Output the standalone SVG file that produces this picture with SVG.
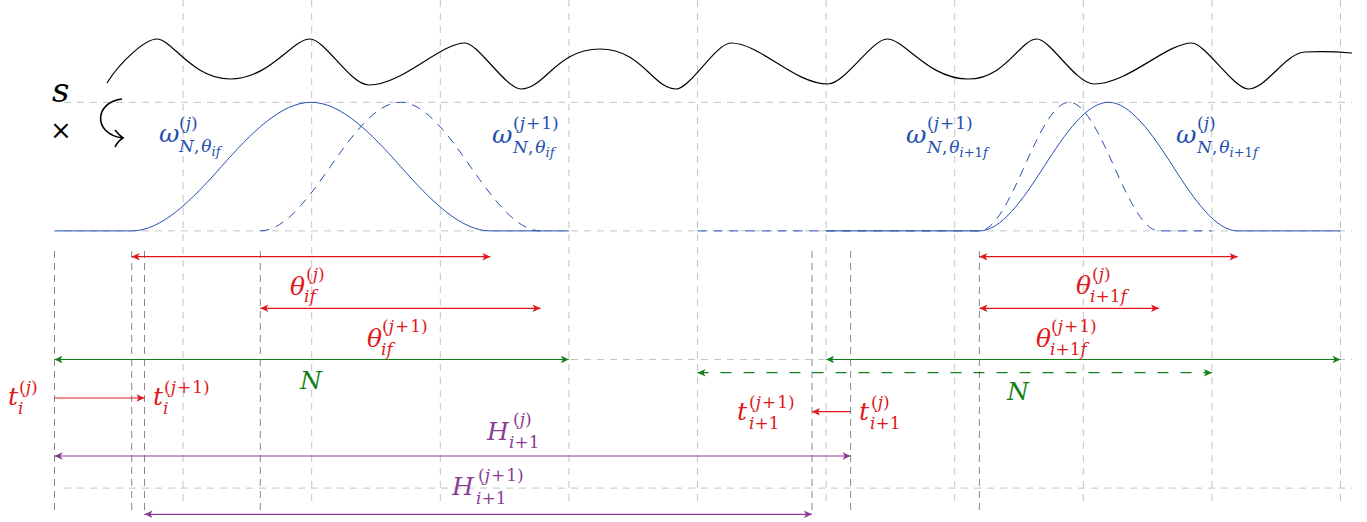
<svg xmlns="http://www.w3.org/2000/svg" width="1367" height="522" viewBox="0 0 1367 522">
<style>
.f { font-family: "DejaVu Serif", "Liberation Serif", serif; }
.M { font-size:25px; font-style:italic; }
.S { font-size:17px; font-style:normal; }
.SS { font-size:13px; }
.it { font-style:italic; }
.red { fill:#e0181c; }
.grn { fill:#15801a; }
.pur { fill:#8b3d95; }
.blu { fill:#2350b0; }
.grid { stroke:#c4c4c4; stroke-width:1; stroke-dasharray:7 6; fill:none; }
.dark { stroke:#8a8a8a; stroke-width:1; stroke-dasharray:7 5; fill:none; }
.sig { stroke:#000; stroke-width:1.2; fill:none; }
.win { stroke:#2350b0; stroke-width:1; fill:none; }
.winD { stroke:#2350b0; stroke-width:1; fill:none; stroke-dasharray:9 7; }
.ar { stroke-width:1.2; fill:none; }
</style>
<defs>
<marker id="hr" viewBox="-10 -5 12 10" refX="0" refY="0" markerWidth="12" markerHeight="10" markerUnits="userSpaceOnUse" orient="auto-start-reverse"><path d="M0,0 L-8,-3.8 L-6,0 L-8,3.8 Z" fill="#e0181c"/></marker>
<marker id="hg" viewBox="-10 -5 12 10" refX="0" refY="0" markerWidth="12" markerHeight="10" markerUnits="userSpaceOnUse" orient="auto-start-reverse"><path d="M0,0 L-8,-3.8 L-6,0 L-8,3.8 Z" fill="#15801a"/></marker>
<marker id="hp" viewBox="-10 -5 12 10" refX="0" refY="0" markerWidth="12" markerHeight="10" markerUnits="userSpaceOnUse" orient="auto-start-reverse"><path d="M0,0 L-8,-3.8 L-6,0 L-8,3.8 Z" fill="#8b3d95"/></marker>
</defs>
<rect width="1367" height="522" fill="#fff"/>

<g id="grid">
<path class="grid" d="M183.1,0V502 M311.7,0V502 M440.3,0V502 M568.9,0V502 M697.5,0V502 M826.1,0V502 M954.7,0V502 M1083.3,0V502 M1211.9,0V502 M1340.5,0V502"/>
<path class="grid" d="M64,102.3H1352 M64,230.9H1352 M64,359.5H1352 M64,488.1H1352"/>
</g>

<g id="markers-dark">
<path class="dark" d="M54.5,251V515 M131.7,251V515 M144.5,251V515 M260.3,251V515 M812,251V515 M850.6,251V515 M979.4,251V515"/>
</g>

<g id="signal">
<path class="sig" d="M107,83 C120,62 145,39 157,39 C172,39 192,79 230,79 C270,79 292,39 310,39 C325,39 350,85 369,85 C402.6,85 440,43 465,43 C478,43 506,89 521,89 C544.7,89 556.5,49 600,49 C641.8,49 653.2,89 676,89 C690,89 716,43 731,43 C760.1,43 794,84 828,84 C845,84 872,39 887,39 C905,39 928,79 968,79 C1006,79 1020,39 1037,39 C1050,39 1076,84 1094,84 C1128.3,84 1166,43 1192,43 C1205,43 1234,89 1248,89 C1266.6,89 1285,53 1305,52 C1325,51 1340,52 1352,53"/>
</g>

<g id="multiply">
<text class="f" x="52" y="102" style="font-size:34px;font-style:italic">s</text>
<text class="f" x="61" y="139" text-anchor="middle" style="font-size:26px">×</text>
<path d="M122,99 C95,102 92,133 122,138" stroke="#000" stroke-width="1.6" fill="none"/>
<path d="M115,130 Q119,135 123,138 Q118,141 115,147" stroke="#000" stroke-width="1.6" fill="none"/>
</g>

<g id="windows">
<path class="win" d="M54.5,230.9 L131.7,230.9 C161.6,230.9 191.5,200.3 221.4,166.6 C251.3,132.9 281.2,102.3 311.05,102.3 C340.9,102.3 370.8,132.9 400.7,166.6 C430.6,200.3 460.5,230.9 490.4,230.9 L568.9,230.9"/>
<path class="winD" d="M260.3,230.9 C283.7,230.9 307.0,200.3 330.4,166.6 C353.7,132.9 377.1,102.3 400.45,102.3 C423.8,102.3 447.2,132.9 470.5,166.6 C493.9,200.3 517.2,230.9 540.6,230.9"/>
<path class="win" d="M826.1,230.9 L979.4,230.9 C1000.9,230.9 1022.4,200.3 1044.0,166.6 C1065.5,132.9 1087.0,102.3 1108.5,102.3 C1130.0,102.3 1151.6,132.9 1173.1,166.6 C1194.6,200.3 1216.1,230.9 1237.6,230.9 L1340.5,230.9"/>
<path class="winD" d="M697.5,230.9 L979.4,230.9 C994.4,230.9 1009.3,200.3 1024.3,166.6 C1039.3,132.9 1054.2,102.3 1069.2,102.3 C1084.2,102.3 1099.1,132.9 1114.1,166.6 C1129.1,200.3 1144.0,230.9 1159.0,230.9 L1211.9,230.9"/>
</g>

<g id="w-j-if" class="blu">
<text class="f"><tspan class="M" x="159" y="142">ω</tspan><tspan class="S" x="179" y="129">(<tspan class="it">j</tspan>)</tspan><tspan class="S" x="179" y="152"><tspan class="it">N</tspan>,<tspan class="it" dx="2">θ</tspan></tspan><tspan class="SS it" y="156">if</tspan></text>
</g>
<g id="w-j1-if" class="blu">
<text class="f"><tspan class="M" x="492" y="143">ω</tspan><tspan class="S" x="513" y="129">(<tspan class="it">j</tspan><tspan dx="1">+</tspan><tspan dx="1">1</tspan>)</tspan><tspan class="S" x="513" y="153"><tspan class="it">N</tspan>,<tspan class="it" dx="2">θ</tspan></tspan><tspan class="SS it" y="157">if</tspan></text>
</g>
<g id="w-j1-i1f" class="blu">
<text class="f"><tspan class="M" x="906" y="143">ω</tspan><tspan class="S" x="927" y="129">(<tspan class="it">j</tspan><tspan dx="1">+</tspan><tspan dx="1">1</tspan>)</tspan><tspan class="S" x="927" y="153"><tspan class="it">N</tspan>,<tspan class="it" dx="2">θ</tspan></tspan><tspan class="SS" y="157"><tspan class="it">i</tspan>+1<tspan class="it">f</tspan></tspan></text>
</g>
<g id="w-j-i1f" class="blu">
<text class="f"><tspan class="M" x="1176" y="143">ω</tspan><tspan class="S" x="1197" y="129">(<tspan class="it">j</tspan>)</tspan><tspan class="S" x="1197" y="153"><tspan class="it">N</tspan>,<tspan class="it" dx="2">θ</tspan></tspan><tspan class="SS" y="157"><tspan class="it">i</tspan>+1<tspan class="it">f</tspan></tspan></text>
</g>

<g id="connectors">
<path class="ar" stroke="#e0181c" d="M131.7,256.7H490.4" marker-start="url(#hr)" marker-end="url(#hr)"/>
<path class="ar" stroke="#e0181c" d="M260.3,308.3H540.6" marker-start="url(#hr)" marker-end="url(#hr)"/>
<path class="ar" stroke="#e0181c" d="M979.4,256.7H1237.6" marker-start="url(#hr)" marker-end="url(#hr)"/>
<path class="ar" stroke="#e0181c" d="M979.4,308.3H1159" marker-start="url(#hr)" marker-end="url(#hr)"/>
<path class="ar" stroke="#e0181c" d="M54.5,398H144.5" marker-end="url(#hr)"/>
<path class="ar" stroke="#e0181c" d="M850.6,411.7H812" marker-end="url(#hr)"/>
<path class="ar" stroke="#15801a" d="M54.5,359.5H568.9" marker-start="url(#hg)" marker-end="url(#hg)"/>
<path class="ar" stroke="#15801a" d="M826.1,359.5H1340.5" marker-start="url(#hg)" marker-end="url(#hg)"/>
<path class="ar" stroke="#15801a" stroke-dasharray="11 12" d="M697.5,372.7H1211.9" marker-start="url(#hg)" marker-end="url(#hg)"/>
<path class="ar" stroke="#8b3d95" d="M54.5,456H850.6" marker-start="url(#hp)" marker-end="url(#hp)"/>
<path class="ar" stroke="#8b3d95" d="M144.5,514.3H812" marker-start="url(#hp)" marker-end="url(#hp)"/>
</g>

<g id="theta-j-if" class="red">
<text class="f"><tspan class="M" x="290" y="295">θ</tspan><tspan class="S" x="306" y="280">(<tspan class="it">j</tspan>)</tspan><tspan class="S it" x="304" y="302">if</tspan></text>
</g>
<g id="theta-j1-if" class="red">
<text class="f"><tspan class="M" x="367" y="347">θ</tspan><tspan class="S" x="382" y="332">(<tspan class="it">j</tspan><tspan dx="1">+</tspan><tspan dx="1">1</tspan>)</tspan><tspan class="S it" x="381" y="355">if</tspan></text>
</g>
<g id="theta-j-i1f" class="red">
<text class="f"><tspan class="M" x="1076" y="294">θ</tspan><tspan class="S" x="1092" y="280">(<tspan class="it">j</tspan>)</tspan><tspan class="S" x="1090" y="302"><tspan class="it">i</tspan>+1<tspan class="it">f</tspan></tspan></text>
</g>
<g id="theta-j1-i1f" class="red">
<text class="f"><tspan class="M" x="1036" y="347">θ</tspan><tspan class="S" x="1051" y="332">(<tspan class="it">j</tspan><tspan dx="1">+</tspan><tspan dx="1">1</tspan>)</tspan><tspan class="S" x="1050" y="355"><tspan class="it">i</tspan>+1<tspan class="it">f</tspan></tspan></text>
</g>

<g id="N-left" class="grn"><text class="f M" x="300" y="389">N</text></g>
<g id="N-right" class="grn"><text class="f M" x="1007" y="400">N</text></g>

<g id="t-i-j" class="red">
<text class="f"><tspan class="M" x="8" y="405">t</tspan><tspan class="S" x="19" y="393">(<tspan class="it">j</tspan>)</tspan><tspan class="S it" x="18" y="414">i</tspan></text>
</g>
<g id="t-i-j1" class="red">
<text class="f"><tspan class="M" x="153" y="405">t</tspan><tspan class="S" x="164" y="393">(<tspan class="it">j</tspan><tspan dx="1">+</tspan><tspan dx="1">1</tspan>)</tspan><tspan class="S it" x="163" y="414">i</tspan></text>
</g>
<g id="t-i1-j1" class="red">
<text class="f"><tspan class="M" x="737" y="420">t</tspan><tspan class="S" x="749" y="408">(<tspan class="it">j</tspan><tspan dx="1">+</tspan><tspan dx="1">1</tspan>)</tspan><tspan class="S" x="749" y="429"><tspan class="it">i</tspan>+1</tspan></text>
</g>
<g id="t-i1-j" class="red">
<text class="f"><tspan class="M" x="859" y="420">t</tspan><tspan class="S" x="871" y="408">(<tspan class="it">j</tspan>)</tspan><tspan class="S" x="870" y="429"><tspan class="it">i</tspan>+1</tspan></text>
</g>

<g id="H-j" class="pur">
<text class="f"><tspan class="M" x="487" y="440">H</tspan><tspan class="S" x="513" y="425">(<tspan class="it">j</tspan>)</tspan><tspan class="S" x="509" y="448"><tspan class="it">i</tspan>+1</tspan></text>
</g>
<g id="H-j1" class="pur">
<text class="f"><tspan class="M" x="452" y="495">H</tspan><tspan class="S" x="478" y="481">(<tspan class="it">j</tspan><tspan dx="1">+</tspan><tspan dx="1">1</tspan>)</tspan><tspan class="S" x="476" y="504"><tspan class="it">i</tspan>+1</tspan></text>
</g>
</svg>
